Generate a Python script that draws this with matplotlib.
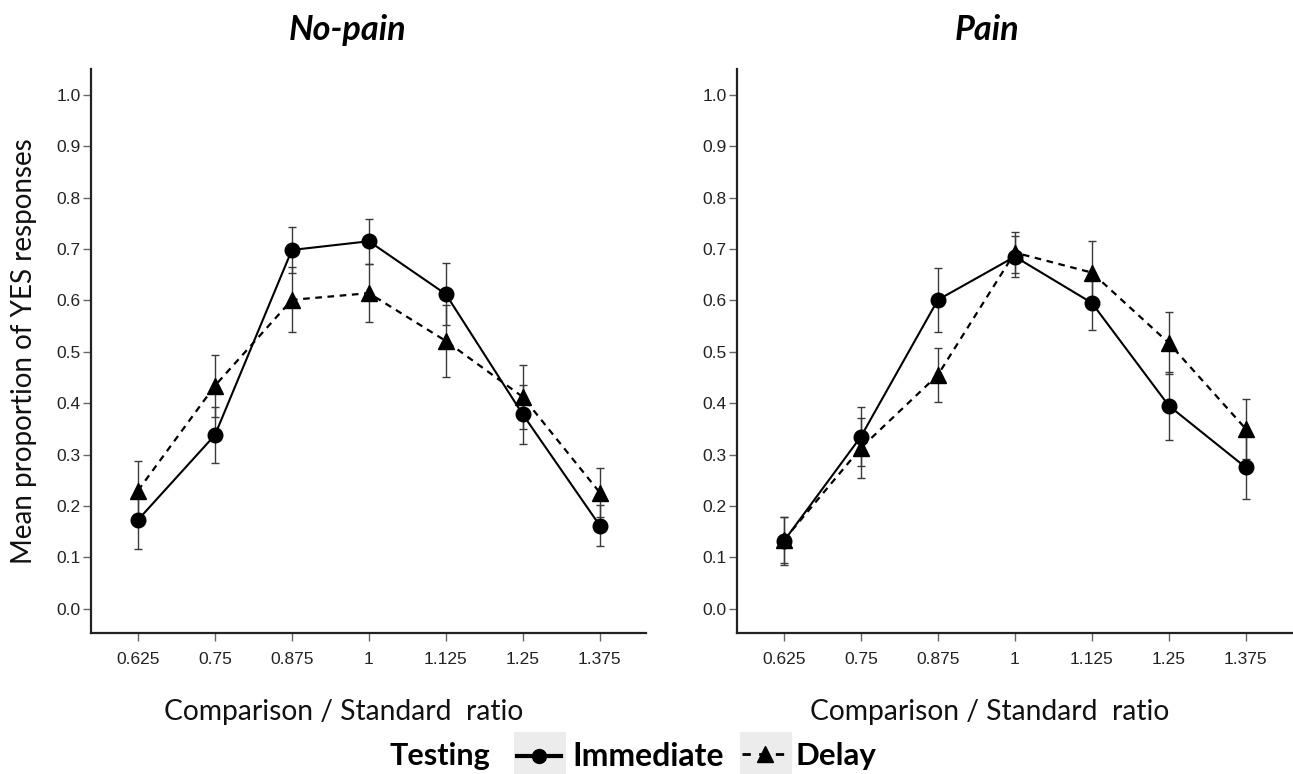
import matplotlib
matplotlib.use("Agg")
import matplotlib.pyplot as plt
from matplotlib.lines import Line2D
from matplotlib.patches import Rectangle
import numpy as np

# ---- data ----
ratios = ["0.625", "0.75", "0.875", "1", "1.125", "1.25", "1.375"]

nopain_immediate = [0.173, 0.338, 0.698, 0.715, 0.612, 0.378, 0.162]
nopain_immediate_se = [0.056, 0.054, 0.045, 0.044, 0.060, 0.057, 0.040]
nopain_delay = [0.230, 0.434, 0.601, 0.614, 0.521, 0.412, 0.226]
nopain_delay_se = [0.057, 0.060, 0.063, 0.056, 0.070, 0.062, 0.048]

pain_immediate = [0.132, 0.335, 0.601, 0.685, 0.595, 0.395, 0.275]
pain_immediate_se = [0.047, 0.057, 0.062, 0.040, 0.052, 0.066, 0.061]
pain_delay = [0.134, 0.313, 0.455, 0.693, 0.654, 0.517, 0.350]
pain_delay_se = [0.045, 0.058, 0.052, 0.040, 0.062, 0.060, 0.058]

yticks = [0.0, 0.1, 0.2, 0.3, 0.4, 0.5, 0.6, 0.7, 0.8, 0.9, 1.0]
titles = ["No-pain", "Pain"]

W, H = 1293, 774
fig = plt.figure(figsize=(W / 100, H / 100), dpi=100)

TXT = "Lato"
NUM = "Liberation Sans"

def px_rect(x0, x1, ytop, ybot):
    return [x0 / W, 1 - ybot / H, (x1 - x0) / W, (ybot - ytop) / H]

axes = [fig.add_axes(px_rect(91, 646, 69, 633)),
        fig.add_axes(px_rect(737, 1292, 69, 633))]

panels = [
    (nopain_immediate, nopain_immediate_se, nopain_delay, nopain_delay_se),
    (pain_immediate, pain_immediate_se, pain_delay, pain_delay_se),
]

x = np.arange(len(ratios))
for ax, (imm, imm_se, dl, dl_se) in zip(axes, panels):
    ax.errorbar(x, dl, yerr=dl_se, fmt="none", ecolor="#3a3a3a",
                elinewidth=1.0, capsize=3.2, capthick=1.0, zorder=2)
    ax.errorbar(x, imm, yerr=imm_se, fmt="none", ecolor="#3a3a3a",
                elinewidth=1.0, capsize=3.2, capthick=1.0, zorder=2)
    ax.plot(x, dl, color="black", lw=1.6, linestyle=(0, (3, 2.5)),
            marker="^", markersize=11, markerfacecolor="black",
            markeredgecolor="black", zorder=3)
    ax.plot(x, imm, color="black", lw=1.5, linestyle="-",
            marker="o", markersize=10.5, markerfacecolor="black",
            markeredgecolor="black", zorder=4)

    ax.set_xlim(-0.61, 6.6)
    ax.set_ylim(-0.047, 1.05)
    ax.set_xticks(x)
    ax.set_xticklabels(ratios)
    ax.set_yticks(yticks)
    ax.set_yticklabels([f"{v:.1f}" for v in yticks])
    for s in ["top", "right"]:
        ax.spines[s].set_visible(False)
    for s in ["left", "bottom"]:
        ax.spines[s].set_linewidth(1.6)
        ax.spines[s].set_color("#222222")
    ax.tick_params(axis="both", direction="out", length=6, width=1.0,
                   color="#666666", labelcolor="#222222", labelsize=12.5)
    ax.tick_params(axis="y", pad=1.5)
    ax.tick_params(axis="x", pad=8)
    for lab in ax.get_xticklabels() + ax.get_yticklabels():
        lab.set_fontfamily(NUM)
    ax.set_xlabel("Comparison / Standard  ratio", fontsize=20.3,
                  fontfamily=TXT, color="#111111", va="center")
    ax.xaxis.set_label_coords(0.456, (633 - 712) / 564)

axes[0].set_ylabel("Mean proportion of YES responses", fontsize=20,
                   fontfamily=TXT, labelpad=14, color="#111111")

# titles
fig.text(348 / W, 1 - 30 / H, titles[0], fontsize=24.7, fontweight="bold",
         fontstyle="italic", fontfamily=TXT, ha="center", va="center")
fig.text(987 / W, 1 - 30 / H, titles[1], fontsize=24.7, fontweight="bold",
         fontstyle="italic", fontfamily=TXT, ha="center", va="center")

# legend (bottom)
ly = 1 - 756 / H
fig.text(440 / W, ly, "Testing", fontsize=22, fontweight="bold",
         fontfamily=TXT, ha="center", va="center")
for (x0, x1) in [(514, 566), (740, 792)]:
    fig.patches.append(Rectangle((x0 / W, 1 - 774 / H), (x1 - x0) / W,
                                 42 / H, transform=fig.transFigure,
                                 facecolor="#ececec", edgecolor="none",
                                 zorder=0))
fig.add_artist(Line2D([517 / W, 561 / W], [ly, ly], transform=fig.transFigure,
                      color="black", lw=3.0, marker=None))
fig.add_artist(Line2D([539 / W], [ly], transform=fig.transFigure,
                      color="black", marker="o", markersize=10, lw=0))
fig.add_artist(Line2D([742 / W, 789 / W], [ly + 0.003, ly + 0.003],
                      transform=fig.transFigure, color="black", lw=2.0,
                      linestyle=(0, (3, 3))))
fig.add_artist(Line2D([765 / W], [ly + 0.003], transform=fig.transFigure,
                      color="black", marker="^", markersize=11, lw=0))
fig.text(572 / W, ly, "Immediate", fontsize=23, fontweight="bold",
         fontfamily=TXT, ha="left", va="center")
fig.text(795 / W, ly, "Delay", fontsize=22.5, fontweight="bold",
         fontfamily=TXT, ha="left", va="center")

fig.savefig("out.png", dpi=100, facecolor="white")
